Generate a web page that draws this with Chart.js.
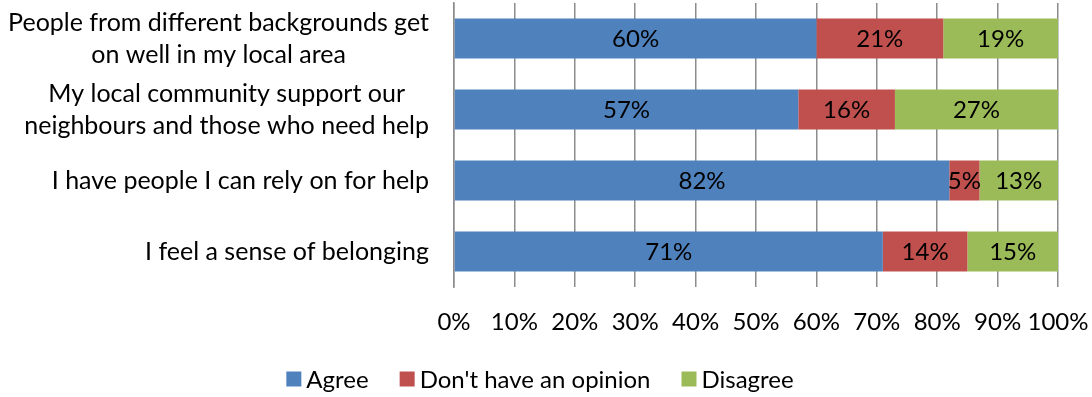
<!DOCTYPE html>
<html>
<head>
<meta charset="utf-8">
<script src="https://cdn.jsdelivr.net/npm/chart.js@4/dist/chart.umd.min.js"></script>
<style>
  html, body { margin: 0; padding: 0; background: #fff; }
  canvas { display: block; }
</style>
</head>
<body>
<canvas id="myChart" width="1092" height="397"></canvas>
<script>
// survey statements, top to bottom
var questions = [
  ['People from different backgrounds get', 'on well in my local area'],
  ['My local community support our', 'neighbours and those who need help'],
  ['I have people I can rely on for help'],
  ['I feel a sense of belonging']
];
var agree = [60, 57, 82, 71];
var noOpinion = [21, 16, 5, 14];
var disagree = [19, 27, 13, 15];

var seriesNames = ['Agree', "Don't have an opinion", 'Disagree'];
var seriesColors = ['#4F81BD', '#C0504D', '#9BBB59'];

var fontFamily = 'Lato, "Noto Sans", sans-serif';
var labelSize = 25;
var smallSize = 24;
var lineGap = 32;

// percentages inside the bars, the category text and the legend
var labelPlugin = {
  id: 'surveyLabels',
  afterDatasetsDraw: function(chart) {
    var ctx = chart.ctx;
    ctx.save();
    ctx.font = smallSize + 'px ' + fontFamily;
    ctx.fillStyle = '#000';
    ctx.textAlign = 'center';
    ctx.textBaseline = 'middle';

    chart.data.datasets.forEach(function(ds, d) {
      chart.getDatasetMeta(d).data.forEach(function(bar, i) {
        ctx.fillText(ds.data[i] + '%', (bar.x + bar.base) / 2, bar.y + 1);
      });
    });

    // each block sits against the axis, its lines centred on each other
    ctx.font = labelSize + 'px ' + fontFamily;
    var yScale = chart.scales.y;
    var right = chart.chartArea.left - 25;
    questions.forEach(function(lines, i) {
      var w = Math.max.apply(null, lines.map(function(t) { return ctx.measureText(t).width; }));
      var cx = right - w / 2;
      var cy = yScale.getPixelForValue(i);
      var top = cy - (lines.length - 1) * lineGap / 2;
      lines.forEach(function(t, j) {
        ctx.fillText(t, cx, top + j * lineGap);
      });
    });

    // legend
    ctx.font = smallSize + 'px ' + fontFamily;
    var box = 15, boxGap = 5, itemGap = 31, legendY = 379;
    var widths = seriesNames.map(function(n) { return box + boxGap + ctx.measureText(n).width; });
    var total = widths.reduce(function(a, b) { return a + b; }, 0) + itemGap * (widths.length - 1);
    var x = chart.width / 2 - 6 - total / 2;
    ctx.textAlign = 'left';
    seriesNames.forEach(function(n, k) {
      ctx.fillStyle = seriesColors[k];
      ctx.fillRect(x, legendY - box / 2, box, box);
      ctx.fillStyle = '#000';
      ctx.fillText(n, x + box + boxGap, legendY + 1);
      x += widths[k] + itemGap;
    });
    ctx.restore();
  }
};

var ctx = document.getElementById('myChart');
var myChart = new Chart(ctx, {
  type: 'bar',
  data: {
    labels: questions,
    datasets: [
      { label: seriesNames[0], data: agree, backgroundColor: seriesColors[0] },
      { label: seriesNames[1], data: noOpinion, backgroundColor: seriesColors[1] },
      { label: seriesNames[2], data: disagree, backgroundColor: seriesColors[2] }
    ]
  },
  options: {
    responsive: false,
    animation: false,
    indexAxis: 'y',
    layout: { padding: { top: 3, right: 34, left: 0, bottom: 0 } },
    datasets: {
      bar: { categoryPercentage: 1, barPercentage: 0.565, borderWidth: 0 }
    },
    plugins: {
      legend: { display: false },
      tooltip: { enabled: false }
    },
    scales: {
      x: {
        stacked: true,
        min: 0,
        max: 100,
        grid: { color: '#8c8c8c', lineWidth: 1.5, drawTicks: false },
        border: { display: false },
        ticks: {
          stepSize: 10,
          padding: 21,
          color: '#000',
          maxRotation: 0,
          autoSkip: false,
          font: { family: fontFamily, size: smallSize },
          callback: function(v) { return v + '%'; }
        },
        afterFit: function(s) {
          s.height = 110;
          s.paddingLeft = 0;
          s.paddingRight = 0;
        }
      },
      y: {
        stacked: true,
        grid: { display: false },
        border: { display: true, color: '#8c8c8c', width: 1.5 },
        ticks: { display: false },
        afterFit: function(s) {
          s.width = 454;
        }
      }
    }
  },
  plugins: [labelPlugin]
});
</script>
</body>
</html>
